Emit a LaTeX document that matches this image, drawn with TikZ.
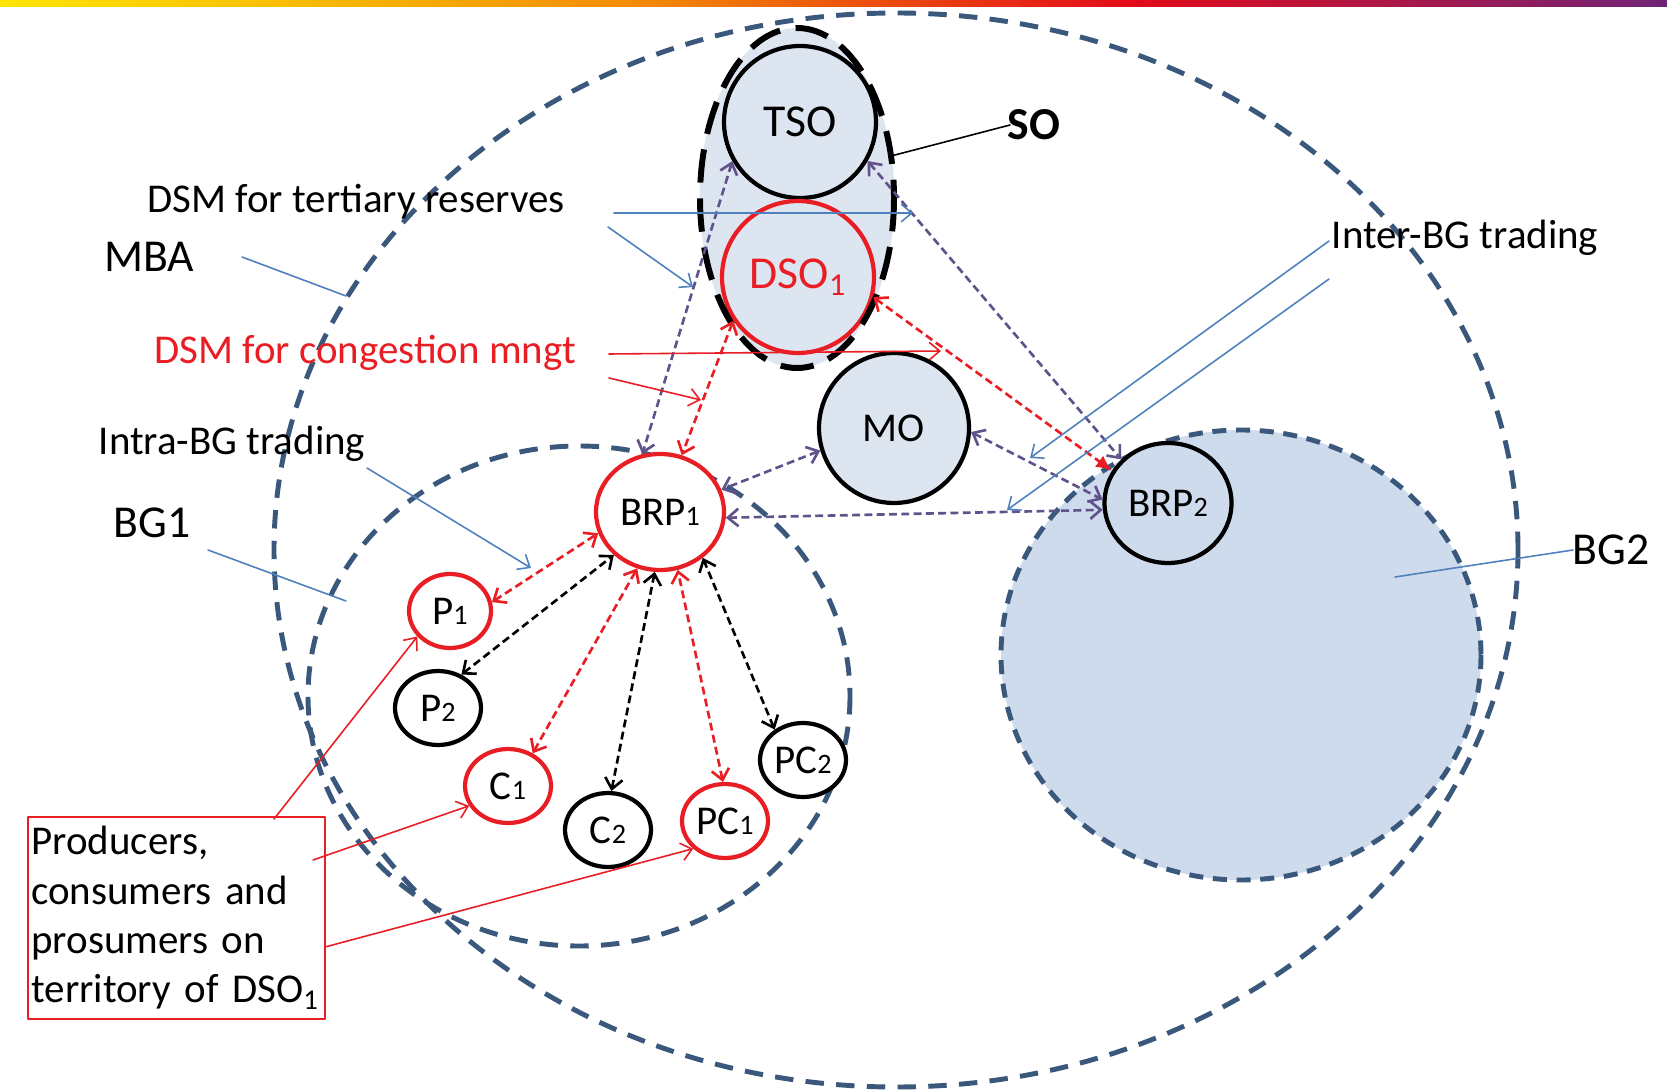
\documentclass[tikz,border=0pt]{standalone}
\usepackage{fontspec}
\setmainfont{Carlito}
\usetikzlibrary{arrows.meta,shapes.geometric}
\definecolor{bgline}{RGB}{58,88,124}
\definecolor{bgfill}{RGB}{206,219,236}
\definecolor{sofill}{RGB}{221,229,241}
\definecolor{rd}{RGB}{232,30,36}
\definecolor{pu}{RGB}{98,82,140}
\definecolor{note}{RGB}{79,129,189}
\pgfdeclarehorizontalshading{topbar}{100bp}{rgb(0bp)=(1,0.9,0); rgb(25bp)=(1,0.9,0); rgb(44bp)=(0.95,0.55,0.02); rgb(59bp)=(0.89,0.04,0.1); rgb(75bp)=(0.44,0.14,0.47); rgb(100bp)=(0.44,0.14,0.47)}
\newcommand{\osn}[1]{{\fontsize{16pt}{16pt}\selectfont #1}}
\begin{document}
\begin{tikzpicture}[x=0.02cm,y=-0.02cm,line join=round,line cap=round,
	font=\fontsize{23.3pt}{28pt}\selectfont,>={Straight Barb[length=6pt,width=10pt]},
	grp/.style={draw=bgline,line width=2.8pt,dash pattern=on 10.5pt off 7pt,line cap=butt},
	ent/.style={ellipse,draw,line width=2.4pt,fill=white,inner sep=0pt},
	op/.style={ent,fill=sofill,minimum size=3.04cm},
	sm/.style={ent,draw=#1,minimum width=1.72cm,minimum height=1.48cm},
	lk/.style={#1,line width=1.5pt,dash pattern=on 4.5pt off 2.5pt,line cap=butt,<->},
	note/.style={draw=#1,line width=0.9pt},
	lbl/.style={font=\fontsize{26pt}{30pt}\selectfont}]
	\useasboundingbox (0,0) rectangle (1667,1091);
	\fill[white] (0,0) rectangle (1667,1091);
	\shade[shading=topbar] (0,0) rectangle (1667,7);
	\draw[grp] (896,550) ellipse [x radius=622,y radius=537];
	\filldraw[grp,fill=bgfill,dash pattern=on 8pt off 5.5pt] (1241,655) ellipse [x radius=240,y radius=225];
	\draw[grp] (579,696) ellipse [x radius=271,y radius=250];
	\node[ellipse,fill=sofill,minimum width=3.9cm,minimum height=6.8cm] (so) at (797,198) {};
	\node[op] (tso) at (800,122) {\fontsize{26pt}{30pt}\selectfont TSO};
	\node[op,draw=rd,text=rd] (dso) at (798,277) {\fontsize{26pt}{30pt}\selectfont DSO\textsubscript{1}};
	\draw[line width=3.4pt,dash pattern=on 19pt off 9pt,line cap=butt] (so.center) ellipse [x radius=97,y radius=170];
	\node[op,minimum size=3cm] (mo) at (894,428) {MO};
	\node[ent,draw=rd,minimum width=2.56cm,minimum height=2.32cm] (brp1) at (660,512) {BRP\osn{1}};
	\node[ent,fill=bgfill,minimum width=2.54cm,minimum height=2.4cm] (brp2) at (1168,503) {BRP\osn{2}};
	\node[sm=rd,minimum width=1.64cm] (p1) at (450,611) {P\osn{1}};
	\node[sm=black] (p2) at (438,708) {P\osn{2}};
	\node[sm=rd] (c1) at (508,786) {C\osn{1}};
	\node[sm=black] (c2) at (608,830) {C\osn{2}};
	\node[sm=rd] (pc1) at (725,821) {PC\osn{1}};
	\node[sm=black] (pc2) at (803,760) {PC\osn{2}};
	\draw[lk=pu] (tso.210) -- (brp1.107);
	\draw[lk=pu] (tso.330) -- (brp2.137);
	\draw[lk=pu] (mo.197) -- (brp1.20);
	\draw[lk=pu] (mo.357) -- (brp2.177);
	\draw[lk=pu] (brp1.355) -- (brp2.186);
	\draw[lk=rd] (dso.214) -- (brp1.69);
	\draw[lk=rd,{Straight Barb[length=6pt,width=10pt]}-{Latex[length=9pt,width=8pt]}] (dso.345) -- (brp2.150);
	\draw[lk=rd] (p1.12) -- (brp1.199);
	\draw[lk=rd] (c1.53) -- (brp1.248);
	\draw[lk=rd] (pc1.93) -- (brp1.287);
	\draw[lk=black] (p2.55) -- (brp1.223);
	\draw[lk=black] (c2.85) -- (brp1.265);
	\draw[lk=black] (pc2.133) -- (brp1.313);
	\node[lbl] (lso) at (1034,125) {\bfseries SO};
	\node (ltert) at (356,202) {DSM for tertiary reserves};
	\node[lbl] (lmba) at (149,257) {MBA};
	\node[text=rd] (lcong) at (365,353) {DSM for congestion mngt};
	\node (lintra) at (232,444) {Intra-BG trading};
	\node[lbl] (lbg1) at (152,523) {BG1};
	\node (linter) at (1465,238) {Inter-BG trading};
	\node[lbl] (lbg2) at (1611,550) {BG2};
	\node[draw=rd,line width=1pt,anchor=north west,text width=5.8cm,minimum height=4.04cm,align=left,inner sep=2pt] (lbox) at (27,816) {Producers,\\consumers and\\prosumers on\\territory of DSO\textsubscript{1}};
	\coordinate (sa) at (1010,125);
	\coordinate (t1a) at (614,213); \coordinate (t1b) at (913,213);
	\coordinate (t2a) at (608,227); \coordinate (t2b) at (693,287);
	\coordinate (c1a) at (609,354); \coordinate (c1b) at (941,351);
	\coordinate (c2a) at (609,378); \coordinate (c2b) at (701,400);
	\coordinate (ma) at (242,257); \coordinate (mb) at (346,296);
	\coordinate (ia) at (367,468); \coordinate (ib) at (531,568);
	\coordinate (ga) at (208,550); \coordinate (gb) at (346,601);
	\coordinate (e1a) at (1329,241); \coordinate (e1b) at (1030,458);
	\coordinate (e2a) at (1329,279); \coordinate (e2b) at (1007,510);
	\coordinate (ha) at (1573,550); \coordinate (hb) at (1395,577);
	\coordinate (ba) at (274,819); \coordinate (bb) at (313,860); \coordinate (bc) at (325,947);
	\draw[note=black] (sa) -- (so.24);
	\draw[note=note,->] (t1a) -- (t1b);
	\draw[note=note,->] (t2a) -- (t2b);
	\draw[note=rd,->] (c1a) -- (c1b);
	\draw[note=rd,->] (c2a) -- (c2b);
	\draw[note=note] (ma) -- (mb);
	\draw[note=note,->] (ia) -- (ib);
	\draw[note=note] (ga) -- (gb);
	\draw[note=note,->] (e1a) -- (e1b);
	\draw[note=note,->] (e2a) -- (e2b);
	\draw[note=note] (ha) -- (hb);
	\draw[note=rd,->] (ba) -- (p1.218);
	\draw[note=rd,->] (bb) -- (c1.207);
	\draw[note=rd,->] (bc) -- (pc1.221);
\end{tikzpicture}
\end{document}
